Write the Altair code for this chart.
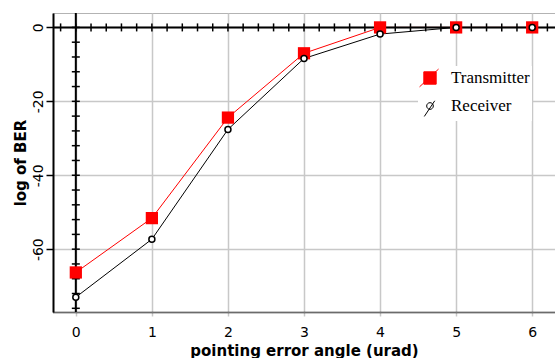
import altair as alt
import pandas as pd

# ---- data ----
angles = [0, 1, 2, 3, 4, 5, 6]
transmitter = [-66.3, -51.6, -24.4, -7.0, 0.0, 0.0, 0.0]
receiver = [-73.0, -57.3, -27.6, -8.4, -1.8, 0.0, 0.0]
series_names = ["Transmitter", "Receiver"]
x_tick_labels = [0, 1, 2, 3, 4, 5, 6]
y_tick_labels = [-60, -40, -20, 0]
# minor tick positions on the inner axis lines (x=0 and y=0)
minor_x = [round(-0.2 + 0.2 * i, 1) for i in range(33)]
minor_y = [-4 * i for i in range(20)]

rows = []
for a, t, r in zip(angles, transmitter, receiver):
    rows.append({"x": a, "y": t, "series": "Transmitter"})
    rows.append({"x": a, "y": r, "series": "Receiver"})
df = pd.DataFrame(rows)
dfx = pd.DataFrame({"x": minor_x, "y": [0] * len(minor_x)})
dfy = pd.DataFrame({"y": minor_y, "x": [0] * len(minor_y)})
origin = pd.DataFrame({"x": [0], "y": [0]})

xscale = alt.Scale(domain=[-0.3, 6.3], nice=False, zero=False)
yscale = alt.Scale(domain=[-77, 3.9], nice=False, zero=False)

x_axis = alt.Axis(
    values=x_tick_labels, title="pointing error angle (urad)", grid=True,
    labelExpr="'' + datum.value",
    gridColor="#c8c8c8", gridWidth=1.5, tickColor="#c8c8c8", tickSize=4, tickWidth=1.5,
    domainColor="#222222", domainWidth=2, domainDash=[1, 1],
    labelFont="DejaVu Sans", labelFontSize=14, labelColor="black", labelPadding=9,
    titleFont="DejaVu Sans", titleFontSize=15, titleFontWeight="bold", titleColor="black",
    titlePadding=4,
)
y_axis = alt.Axis(
    values=y_tick_labels, title="log of BER", grid=True,
    labelExpr="'' + datum.value",
    gridColor="#c8c8c8", gridWidth=1.5, tickColor="black", tickSize=7, tickWidth=1.5,
    domainColor="black", domainWidth=2,
    labelFont="DejaVu Sans", labelFontSize=14, labelColor="black", labelAngle=270,
    labelAlign="center", labelBaseline="bottom", labelPadding=1,
    titleFont="DejaVu Sans", titleFontSize=15, titleFontWeight="bold", titleColor="black",
    titlePadding=3,
)

X = alt.X("x:Q", scale=xscale)
Y = alt.Y("y:Q", scale=yscale)

base = alt.Chart(df)

lines_t = base.transform_filter(alt.datum.series == "Transmitter").mark_line(
    color="red", strokeWidth=1).encode(
    x=alt.X("x:Q", scale=xscale, axis=x_axis),
    y=alt.Y("y:Q", scale=yscale, axis=y_axis),
)
lines_r = base.transform_filter(alt.datum.series == "Receiver").mark_line(
    color="black", strokeWidth=1).encode(x=X, y=Y)
pts_t = base.transform_filter(alt.datum.series == "Transmitter").mark_point(
    shape="square", filled=True, color="red", size=150, opacity=1).encode(x=X, y=Y)
pts_r = base.transform_filter(alt.datum.series == "Receiver").mark_point(
    shape="circle", filled=True, fill="white", stroke="black", strokeWidth=1.5,
    size=36, opacity=1).encode(x=X, y=Y)

vline = alt.Chart(origin).mark_rule(color="black", strokeWidth=2).encode(x=X)
hline = alt.Chart(origin).mark_rule(color="black", strokeWidth=2).encode(y=Y)
ticks_x = alt.Chart(dfx).mark_tick(orient="vertical", size=8, thickness=1.5, color="black",
                                   opacity=1).encode(x=X, y=Y)
ticks_y = alt.Chart(dfy).mark_tick(orient="horizontal", size=8, thickness=1.5, color="black",
                                   opacity=1).encode(x=X, y=Y)

path_t = "M-0.65,-0.65H0.65V0.65H-0.65Z M-1.1,0.93L0.9,-0.94"
path_r = "M-0.35,0A0.35,0.35 0 1,0 0.35,0A0.35,0.35 0 1,0 -0.35,0Z M-0.6,1.1L0.5,-0.55"

def leg():
    return alt.Legend(title=None, orient="none", legendX=365, legendY=53)

legend_layer = base.transform_filter("false").mark_point(
    filled=True, size=361, strokeWidth=1, opacity=1).encode(
    shape=alt.Shape("series:N", scale=alt.Scale(domain=series_names, range=[path_t, path_r]),
                    legend=leg()),
    fill=alt.Fill("series:N", scale=alt.Scale(domain=series_names, range=["red", "white"]),
                  legend=leg()),
    stroke=alt.Stroke("series:N", scale=alt.Scale(domain=series_names, range=["red", "black"]),
                      legend=leg()),
)

chart = alt.layer(
    lines_t, vline, hline, ticks_x, ticks_y, lines_r, pts_t, pts_r, legend_layer
).properties(
    width=502, height=299,
    background="white",
    autosize=alt.AutoSizeParams(type="none"),
    padding={"left": 53, "top": 13, "right": 0, "bottom": 46},
).configure_view(
    stroke="#666666", strokeDash=[1, 1], strokeWidth=1
).configure_legend(
    padding=2, fillColor="white",
    labelFont="Liberation Serif", labelFontSize=17, labelColor="black", labelLimit=0,
    labelOffset=11, rowPadding=7, symbolSize=361, symbolStrokeWidth=1,
)

chart.save("out.html", embed_options={"renderer": "svg", "actions": False})
